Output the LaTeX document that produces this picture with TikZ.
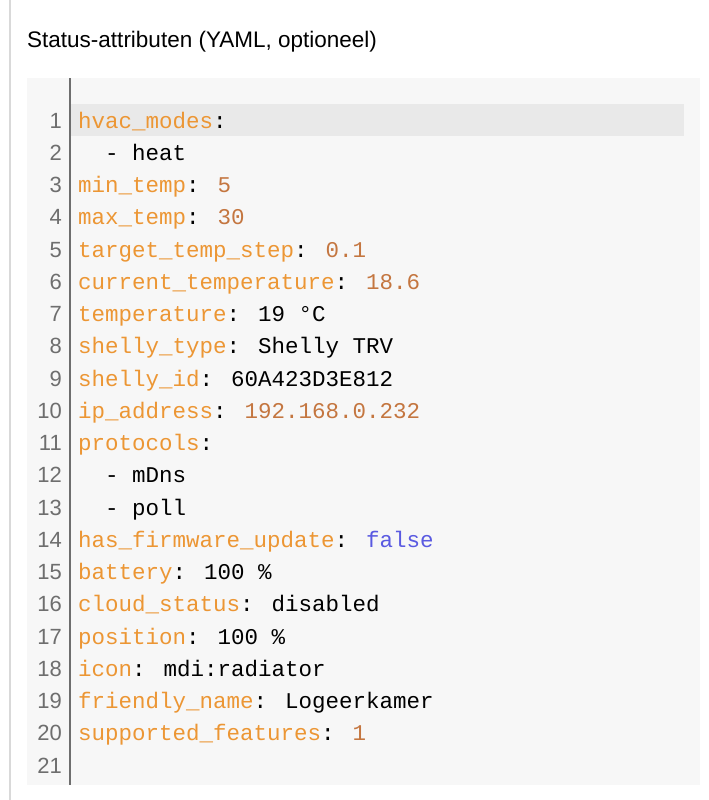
\documentclass[tikz,border=0pt]{standalone}
\usepackage{fontspec}
\setmainfont{Liberation Sans}
\newfontfamily\codefont{Liberation Mono}
\usetikzlibrary{positioning}
\definecolor{keycol}{RGB}{236,150,52}
\definecolor{numcol}{RGB}{196,118,64}
\definecolor{boolcol}{RGB}{90,90,225}
\definecolor{boxcol}{RGB}{247,247,247}
\definecolor{hlcol}{RGB}{233,233,233}
\definecolor{gutcol}{RGB}{110,110,110}
\tikzset{
  codeline/.style={anchor=base west,inner sep=0pt,font=\codefont\fontsize{22.5}{22.5}\selectfont},
  lineno/.style={anchor=base east,inner sep=0pt,text=gutcol,font=\fontsize{22}{22}\selectfont}
}
\newcommand{\ky}[1]{\textcolor{keycol}{#1}}
\newcommand{\nm}[1]{\textcolor{numcol}{#1}}
\begin{document}
\begin{tikzpicture}[x=1pt,y=-1pt]
  \useasboundingbox[fill=white] (0,0) rectangle (709,800);
  \draw[gray!30,line width=1.5pt] (10,0) -- (10,800);
  \node[anchor=base west,inner sep=0pt,font=\fontsize{22.5}{22.5}\selectfont] (title) at (27,48) {Status-attributen (YAML, optioneel)};
  % code box
  \fill[boxcol] (27,78) rectangle (700,785);
  \fill[hlcol] (70,104) rectangle (684,136);
  \draw[gutcol,line width=1.2pt] (70,78) -- (70,785);
  \foreach \n/\txt in {
    1/{\ky{hvac\_modes}:},
    2/{\ \ - heat},
    3/{\ky{min\_temp}: \nm{5}},
    4/{\ky{max\_temp}: \nm{30}},
    5/{\ky{target\_temp\_step}: \nm{0.1}},
    6/{\ky{current\_temperature}: \nm{18.6}},
    7/{\ky{temperature}: 19 °C},
    8/{\ky{shelly\_type}: Shelly TRV},
    9/{\ky{shelly\_id}: 60A423D3E812},
    10/{\ky{ip\_address}: \nm{192.168.0.232}},
    11/{\ky{protocols}:},
    12/{\ \ - mDns},
    13/{\ \ - poll},
    14/{\ky{has\_firmware\_update}: \textcolor{boolcol}{false}},
    15/{\ky{battery}: 100 \%},
    16/{\ky{cloud\_status}: disabled},
    17/{\ky{position}: 100 \%},
    18/{\ky{icon}: mdi:radiator},
    19/{\ky{friendly\_name}: Logeerkamer},
    20/{\ky{supported\_features}: \nm{1}},
    21/{}} {
    \node[lineno] (n\n) at (62,{128+32.25*(\n-1)}) {\n};
    \node[codeline] (l\n) at (78,{128+32.25*(\n-1)}) {\txt};
  }
\end{tikzpicture}
\end{document}
